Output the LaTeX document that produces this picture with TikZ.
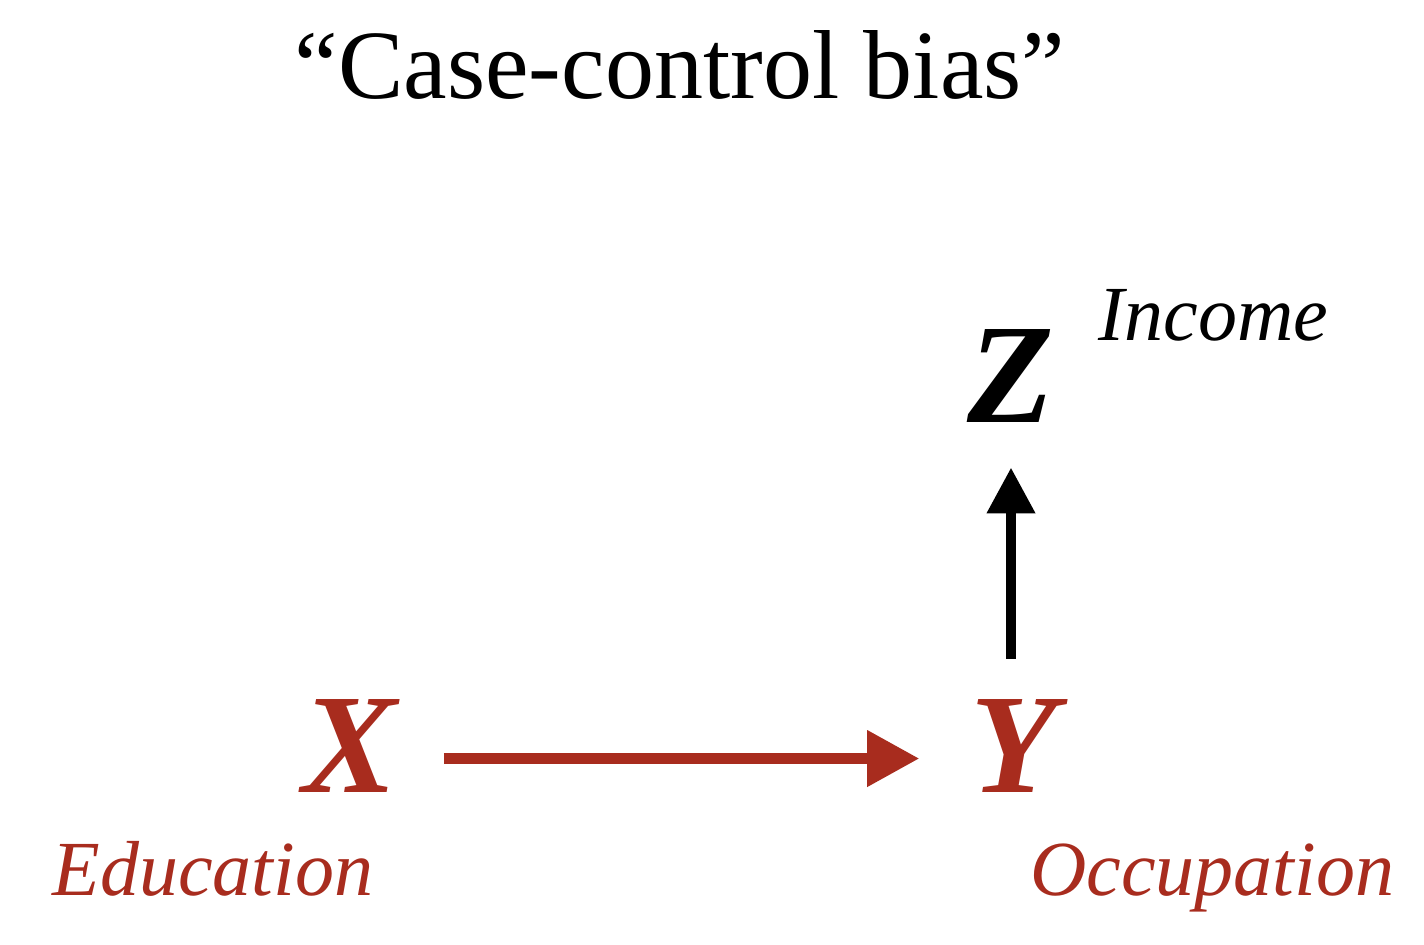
\documentclass[tikz,border=0pt]{standalone}
\usepackage{fontspec}
\setmainfont{Liberation Serif}
\usetikzlibrary{arrows.meta}
\definecolor{dagred}{RGB}{168,44,30}
\tikzset{
  lbl/.style={inner sep=0pt, font=\fontsize{39}{39}\selectfont\itshape},
  var/.style={inner sep=0pt, font=\fontsize{71}{71}\selectfont\bfseries\itshape},
  redarrow/.style={draw=dagred, line width=5.2pt, -{Triangle[length=26pt,width=27pt]}},
  blackarrow/.style={draw=black, line width=5.2pt, -{Triangle[length=23pt,width=23pt]}}
}
\begin{document}
\begin{tikzpicture}[x=0.5pt,y=-0.5pt]
\useasboundingbox[fill=white] (0,0) rectangle (1424,944);
\node[inner sep=0pt, anchor=base, font=\fontsize{49}{49}\selectfont] (title) at (680,98) {“Case-control bias”};
\node[var, text=dagred, anchor=base] (X) at (350,792) {X};
\node[var, text=dagred, anchor=base] (Y) at (1014,792) {Y};
\node[var, text=black, anchor=base] (Z) at (1011,422) {Z};
\node[lbl, text=dagred, anchor=base west] (edu) at (52,895) {Education};
\node[lbl, text=dagred, anchor=base west] (occ) at (1030,895) {Occupation};
\node[lbl, text=black, anchor=base west] (inc) at (1098,340) {Income};
\draw[redarrow] ([xshift=23pt,yshift=-6.5pt]X.east) -- ([xshift=-25.5pt,yshift=-6.5pt]Y.west);
\coordinate (ytop) at ([yshift=20pt]Y.north);
\coordinate (zbot) at ([yshift=-22.5pt]Z.south);
\draw[blackarrow] (ytop -| zbot) -- (zbot);
\end{tikzpicture}
\end{document}
